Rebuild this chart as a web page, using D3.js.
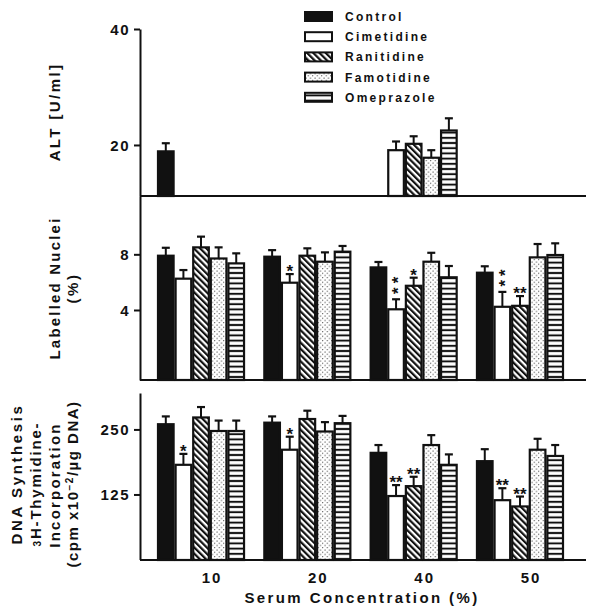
<!DOCTYPE html>
<html>
<head>
<meta charset="utf-8">
<script src="https://cdn.jsdelivr.net/npm/d3@7/dist/d3.min.js"></script>
<style>
  body { margin: 0; background: #fff; }
  text { font-family: "Liberation Sans", Arial, sans-serif; fill: #111; font-weight: bold; }
</style>
</head>
<body>
<div id="chart"></div>
<script>
// categories
var groups = ["10", "20", "40", "50"];
var series = ["Control", "Cimetidine", "Ranitidine", "Famotidine", "Omeprazole"];

// ALT [U/ml] (only measured at 10% and 40%)
var altMean = [[18.9, null, null, null, null],
               [null, null, null, null, null],
               [null, 19.1, 20.2, 17.8, 22.5],
               [null, null, null, null, null]];
var altErr = [[1.4, null, null, null, null],
              [null, null, null, null, null],
              [null, 1.5, 1.3, 1.3, 2.1],
              [null, null, null, null, null]];
var altTicks = [20, 40];

// Labelled nuclei (%)
var nucMean = [[7.9, 6.25, 8.5, 7.7, 7.35],
               [7.83, 5.96, 7.9, 7.47, 8.19],
               [7.06, 4.05, 5.74, 7.47, 6.35],
               [6.68, 4.23, 4.3, 7.78, 7.95]];
var nucErr = [[0.57, 0.62, 0.77, 0.8, 0.72],
              [0.47, 0.62, 0.53, 0.67, 0.41],
              [0.39, 0.72, 0.58, 0.64, 0.81],
              [0.46, 1.07, 0.7, 0.96, 0.84]];
// "v" = stars stacked vertically
var nucSig = [["", "", "", "", ""],
              ["", "*", "", "", ""],
              ["", "v", "*", "", ""],
              ["", "v", "**", "", ""]];
var nucTicks = [4, 8];

// DNA synthesis (cpm x10-2 / ug DNA)
var dnaMean = [[260, 182, 273, 247, 247],
               [263, 211, 270, 246, 262],
               [205, 122, 141, 220, 182],
               [189, 114, 102, 211, 199]];
var dnaErr = [[15, 21, 20, 20, 20],
              [12, 25, 16, 18, 14],
              [15, 21, 18, 19, 20],
              [23, 23, 19, 21, 21]];
var dnaSig = [["", "*", "", "", ""],
              ["", "*", "", "", ""],
              ["", "**", "**", "", ""],
              ["", "**", "**", "", ""]];
var dnaTicks = [125, 250];

var width = 600, height = 614;
var axisX = 140, lineEnd = 586;

var svg = d3.select("#chart").append("svg")
    .attr("width", width)
    .attr("height", height);

// fill patterns
var defs = svg.append("defs");

var ran = defs.append("pattern").attr("id", "p-ran")
    .attr("patternUnits", "userSpaceOnUse")
    .attr("width", 4.4).attr("height", 10)
    .attr("patternTransform", "rotate(-45)");
ran.append("rect").attr("width", 4.4).attr("height", 10).attr("fill", "#fff");
ran.append("rect").attr("width", 2.2).attr("height", 10).attr("fill", "#111");

var fam = defs.append("pattern").attr("id", "p-fam")
    .attr("patternUnits", "userSpaceOnUse")
    .attr("width", 4.5).attr("height", 4.5);
fam.append("rect").attr("width", 4.5).attr("height", 4.5).attr("fill", "#fff");
fam.append("circle").attr("cx", 1).attr("cy", 1).attr("r", 0.6).attr("fill", "#111");
fam.append("circle").attr("cx", 3.25).attr("cy", 3.25).attr("r", 0.6).attr("fill", "#111");

var ome = defs.append("pattern").attr("id", "p-ome")
    .attr("patternUnits", "userSpaceOnUse")
    .attr("width", 10).attr("height", 5.2);
ome.append("rect").attr("width", 10).attr("height", 5.2).attr("fill", "#fff");
ome.append("rect").attr("y", 1.6).attr("width", 10).attr("height", 2).attr("fill", "#111");

var fills = ["#111", "#fff", "url(#p-ran)", "url(#p-fam)", "url(#p-ome)"];

// scales
var x = d3.scaleBand()
    .domain(groups)
    .range([157, 564])
    .paddingInner(0.172)
    .paddingOuter(0);

var xs = d3.scaleBand()
    .domain(series)
    .range([0, x.bandwidth()]);

var yAlt = d3.scaleLinear().domain([11.2, 40]).range([196, 29]);
var yNuc = d3.scaleLinear().domain([-1.03, 12.19]).range([380, 196]);
var yDna = d3.scaleLinear().domain([0, 320]).range([559.5, 393]);

function drawPanel(y, mean, err, sig, ticks, base) {
  var g = svg.append("g");

  var ax = g.append("g")
      .attr("transform", "translate(" + axisX + ",0)")
      .call(d3.axisLeft(y).tickValues(ticks).tickSize(6).tickSizeOuter(0));
  ax.select(".domain").attr("stroke", "#111").attr("stroke-width", 2);
  ax.selectAll(".tick line").attr("stroke", "#111").attr("stroke-width", 2);
  ax.selectAll(".tick text")
      .attr("x", -10)
      .attr("dy", "0.36em")
      .style("font-size", "15px")
      .style("font-family", "'Liberation Sans', Arial, sans-serif")
      .style("font-weight", "bold")
      .style("letter-spacing", "1.5px")
      .style("fill", "#111");

  g.append("line")
      .attr("x1", axisX).attr("x2", lineEnd)
      .attr("y1", base).attr("y2", base)
      .attr("stroke", "#111").attr("stroke-width", 2.2);

  var rows = [];
  groups.forEach(function(gr, gi) {
    series.forEach(function(s, si) {
      if (mean[gi][si] == null) return;
      rows.push({g: gr, s: s, si: si, v: mean[gi][si], e: err[gi][si],
                 sig: sig ? sig[gi][si] : ""});
    });
  });

  var bars = g.selectAll("g.bar").data(rows).enter().append("g").attr("class", "bar");

  // error bar stem and cap
  bars.append("line")
      .attr("x1", function(d) { return x(d.g) + xs(d.s) + xs.bandwidth() / 2; })
      .attr("x2", function(d) { return x(d.g) + xs(d.s) + xs.bandwidth() / 2; })
      .attr("y1", function(d) { return y(d.v); })
      .attr("y2", function(d) { return y(d.v + d.e); })
      .attr("stroke", "#111").attr("stroke-width", 2);

  bars.append("line")
      .attr("x1", function(d) { return x(d.g) + xs(d.s) + xs.bandwidth() / 2 - 4; })
      .attr("x2", function(d) { return x(d.g) + xs(d.s) + xs.bandwidth() / 2 + 4; })
      .attr("y1", function(d) { return y(d.v + d.e); })
      .attr("y2", function(d) { return y(d.v + d.e); })
      .attr("stroke", "#111").attr("stroke-width", 2.2);

  bars.append("rect")
      .attr("x", function(d) { return x(d.g) + xs(d.s) + 1; })
      .attr("y", function(d) { return y(d.v); })
      .attr("width", xs.bandwidth() - 2)
      .attr("height", function(d) { return base - y(d.v); })
      .attr("fill", function(d) { return fills[d.si]; })
      .attr("stroke", "#111").attr("stroke-width", 2.2);

  // significance stars
  bars.filter(function(d) { return d.sig; }).each(function(d) {
    var cx = x(d.g) + xs(d.s) + xs.bandwidth() / 2;
    var top = y(d.v + d.e);
    if (d.sig === "v") {
      d3.select(this).append("text")
          .attr("transform", "translate(" + (cx - 1) + "," + (top - 16) + ") rotate(-90)")
          .attr("text-anchor", "middle")
          .attr("dy", "0.55em")
          .style("font-size", "17px")
          .style("letter-spacing", "4px")
          .text("**");
    } else {
      d3.select(this).append("text")
          .attr("x", cx)
          .attr("y", top + 3)
          .attr("text-anchor", "middle")
          .style("font-size", "17px")
          .text(d.sig);
    }
  });
}

drawPanel(yAlt, altMean, altErr, null, altTicks, 196);
drawPanel(yNuc, nucMean, nucErr, nucSig, nucTicks, 380);
drawPanel(yDna, dnaMean, dnaErr, dnaSig, dnaTicks, 560);

// x category labels
svg.selectAll("text.xlab").data(groups).enter().append("text")
    .attr("class", "xlab")
    .attr("x", function(d) { return x(d) + x.bandwidth() / 2 + 11; })
    .attr("y", 583)
    .attr("text-anchor", "middle")
    .style("font-size", "15px")
    .style("letter-spacing", "2px")
    .text(function(d) { return d; });

svg.append("text")
    .attr("x", 362).attr("y", 603)
    .attr("text-anchor", "middle")
    .style("font-size", "15px")
    .style("letter-spacing", "2.4px")
    .text("Serum Concentration (%)");

// y titles
function vtitle(cx, cy, txt, ls) {
  return svg.append("text")
      .attr("transform", "translate(" + cx + "," + cy + ") rotate(-90)")
      .attr("text-anchor", "middle")
      .attr("dy", "0.36em")
      .style("font-size", "15px")
      .style("letter-spacing", ls + "px")
      .text(txt);
}
vtitle(55, 112, "ALT [U/ml]", 2.4);
vtitle(55, 288, "Labelled Nuclei", 2.2);
vtitle(73, 288, "(%)", 2.5);
vtitle(17, 474, "DNA Synthesis", 2.6);
var th = vtitle(36, 484, "", 1.8);
th.append("tspan").style("font-size", "10px").text("3");
th.append("tspan").text("H-Thymidine-");
vtitle(55, 485, "Incorporation", 2.2);
var cp = vtitle(73, 484, "", 1.5);
cp.append("tspan").text("(cpm x10");
cp.append("tspan").attr("baseline-shift", "super").style("font-size", "10px").text("−2");
cp.append("tspan").text("/µg DNA)");

// legend
var leg = svg.selectAll("g.leg").data(series).enter().append("g")
    .attr("class", "leg")
    .attr("transform", function(d, i) { return "translate(305," + (12 + i * 20.2) + ")"; });
leg.append("rect")
    .attr("width", 27).attr("height", 9)
    .attr("fill", function(d, i) { return fills[i]; })
    .attr("stroke", "#111").attr("stroke-width", 2);
leg.append("text")
    .attr("x", 40).attr("y", 9)
    .style("font-size", "12px")
    .style("letter-spacing", "2.3px")
    .text(function(d) { return d; });
</script>
</body>
</html>
